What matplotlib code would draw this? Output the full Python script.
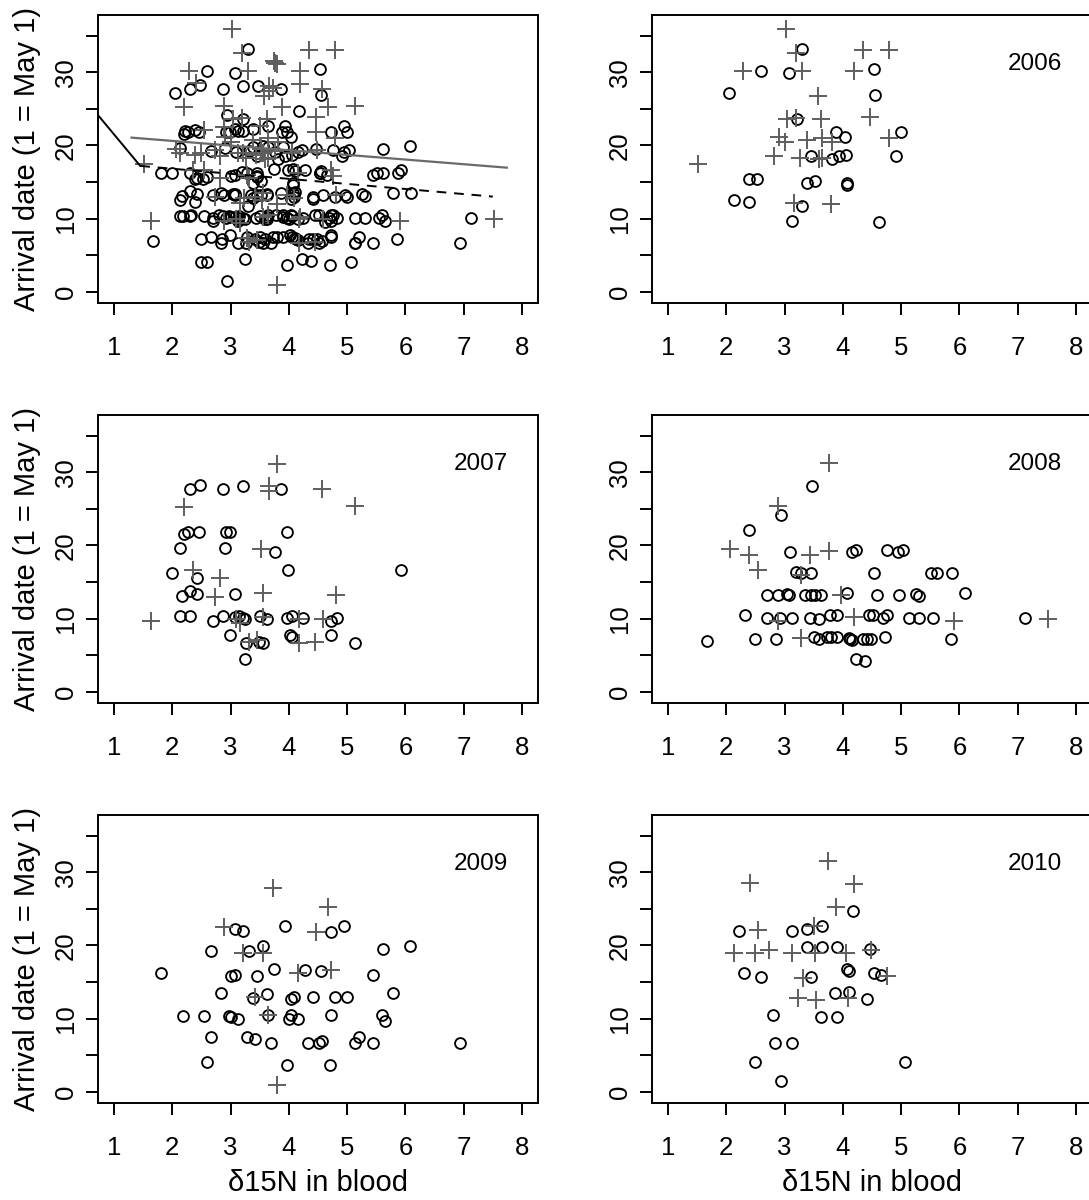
import matplotlib
matplotlib.use('Agg')
import matplotlib.pyplot as plt
from matplotlib.ticker import FixedLocator, FixedFormatter

plt.rcParams['font.family'] = ['Liberation Sans', 'DejaVu Sans']

# ---- data (d15N in blood, arrival day) ----
# circles = black open symbols, plus = grey crosses
n15_o_2006 = [3.30, 2.59, 3.07, 4.54, 2.04, 4.56, 3.21, 3.89, 4.04, 4.99, 3.45, 3.82, 3.93,
              4.05, 4.92, 2.39, 2.52, 3.38, 3.52, 4.07, 4.07, 2.14, 2.39, 3.30, 3.13, 4.62]
day_o_2006 = [33.2, 30.2, 29.9, 30.5, 27.2, 26.9, 23.6, 21.8, 21.2, 21.8, 18.5, 18.1, 18.5,
              18.7, 18.5, 15.4, 15.4, 14.9, 15.2, 14.9, 14.6, 12.5, 12.2, 11.7, 9.7, 9.5]
n15_p_2006 = [3.02, 3.19, 2.29, 3.30, 4.19, 4.35, 4.80, 3.57, 4.47, 3.04, 3.20, 3.63, 2.91,
              3.00, 3.38, 3.65, 3.81, 4.80, 2.82, 3.26, 3.59, 3.65, 1.51, 3.16, 3.80]
day_p_2006 = [36.0, 32.7, 30.2, 30.2, 30.2, 33.0, 33.0, 26.7, 23.9, 23.6, 23.7, 23.6, 21.1,
              20.5, 20.8, 21.0, 20.5, 21.0, 18.6, 18.3, 18.1, 18.3, 17.5, 12.1, 12.0]

n15_o_2007 = [2.48, 2.30, 2.87, 3.21, 3.86, 2.20, 2.27, 2.45, 2.92, 2.99, 3.96, 2.14, 2.91,
              3.76, 2.00, 2.42, 3.99, 5.93, 2.17, 2.30, 2.42, 3.07, 2.13, 2.30, 2.69, 2.87,
              3.07, 3.15, 3.21, 3.24, 3.51, 3.62, 3.96, 4.05, 4.24, 4.72, 4.82, 2.99, 4.02,
              4.06, 4.72, 3.27, 3.48, 3.56, 5.13, 3.24]
day_o_2007 = [28.3, 27.7, 27.7, 28.1, 27.7, 21.5, 21.8, 21.8, 21.8, 21.8, 21.8, 19.6, 19.6,
              19.1, 16.2, 15.5, 16.6, 16.6, 13.1, 13.7, 13.4, 13.4, 10.4, 10.4, 9.6, 10.4,
              10.2, 10.4, 10.1, 9.9, 10.4, 9.9, 10.1, 10.4, 10.1, 9.6, 10.1, 7.7, 7.7,
              7.5, 7.7, 6.6, 6.8, 6.6, 6.6, 4.4]
n15_p_2007 = [3.79, 3.66, 3.66, 4.57, 5.14, 2.20, 3.53, 2.36, 2.81, 3.56, 2.74, 4.81, 1.64,
              3.09, 3.17, 3.56, 4.17, 4.59, 3.32, 3.45, 4.18, 4.44]
day_p_2007 = [31.2, 28.1, 27.5, 27.7, 25.4, 25.2, 19.5, 16.6, 15.6, 13.5, 12.9, 13.2, 9.6,
              9.95, 9.4, 10.2, 9.95, 9.95, 6.8, 7.1, 6.6, 6.8]

n15_o_2008 = [3.47, 2.94, 2.39, 3.10, 4.16, 4.23, 4.75, 4.95, 5.03, 3.20, 3.28, 3.45, 4.54,
              5.51, 5.62, 5.88, 2.69, 2.89, 3.05, 3.07, 3.35, 3.46, 3.53, 3.62, 4.07, 4.59,
              4.96, 5.26, 5.30, 6.09, 2.32, 2.70, 2.92, 3.13, 3.44, 3.59, 3.78, 3.90, 4.44,
              4.51, 4.69, 4.75, 5.13, 5.30, 5.54, 7.12, 1.67, 2.49, 2.86, 3.51, 3.59, 3.72,
              3.80, 3.90, 4.10, 4.13, 4.16, 4.34, 4.42, 4.48, 4.72, 5.85, 4.23, 4.38]
day_o_2008 = [28.1, 24.2, 22.1, 19.1, 19.1, 19.4, 19.4, 19.1, 19.4, 16.4, 16.2, 16.2, 16.2,
              16.2, 16.2, 16.2, 13.2, 13.2, 13.4, 13.2, 13.2, 13.2, 13.2, 13.2, 13.5, 13.2,
              13.2, 13.4, 13.1, 13.5, 10.5, 10.1, 10.1, 10.1, 10.1, 9.9, 10.5, 10.5, 10.5,
              10.5, 10.1, 10.5, 10.1, 10.1, 10.1, 10.1, 6.9, 7.2, 7.2, 7.5, 7.2, 7.5,
              7.5, 7.5, 7.3, 7.2, 7.1, 7.2, 7.2, 7.2, 7.5, 7.2, 4.5, 4.2]
n15_p_2008 = [3.77, 2.88, 2.06, 2.39, 2.55, 3.43, 3.77, 3.29, 3.97, 2.88, 4.19, 5.91, 7.52, 3.29]
day_p_2008 = [31.3, 25.4, 19.5, 18.7, 16.6, 18.7, 19.2, 15.9, 13.2, 9.7, 10.2, 9.7, 10.0, 7.3]

n15_o_2009 = [3.94, 4.94, 3.08, 3.22, 4.73, 2.67, 3.32, 3.56, 5.62, 6.07, 1.80, 3.00, 3.08,
              3.46, 3.74, 4.28, 4.55, 5.44, 2.83, 3.39, 3.63, 4.04, 4.09, 4.42, 4.79, 5.00,
              5.79, 2.19, 2.54, 2.98, 3.01, 3.12, 3.65, 4.00, 4.04, 4.15, 4.73, 5.59, 5.65,
              2.67, 3.28, 3.42, 3.70, 4.32, 4.52, 4.57, 5.13, 5.21, 5.45, 6.93, 2.59, 3.97, 4.70]
day_o_2009 = [22.6, 22.6, 22.2, 22.0, 21.8, 19.3, 19.3, 19.9, 19.5, 19.9, 16.2, 15.8, 16.0,
              15.8, 16.8, 16.6, 16.5, 16.0, 13.5, 12.8, 13.3, 12.7, 13.0, 13.0, 13.0, 13.0,
              13.5, 10.3, 10.3, 10.3, 10.2, 10.0, 10.5, 10.0, 10.5, 10.0, 10.5, 10.5, 9.7,
              7.5, 7.5, 7.2, 6.7, 6.7, 6.7, 6.9, 6.7, 7.5, 6.7, 6.7, 4.0, 3.7, 3.7]
n15_p_2009 = [3.72, 4.67, 2.88, 4.46, 3.21, 3.56, 4.16, 4.72, 3.42, 3.65, 3.79]
day_p_2009 = [27.9, 25.2, 22.5, 21.8, 19.0, 19.0, 16.2, 16.7, 13.0, 10.5, 0.9]

n15_o_2010 = [4.17, 2.21, 3.13, 3.38, 3.65, 3.38, 3.65, 3.90, 4.47, 2.31, 2.59, 3.45, 4.07,
              4.11, 4.54, 4.65, 3.87, 4.10, 4.41, 2.80, 3.62, 3.90, 2.83, 3.13, 2.49, 5.06, 2.94]
day_o_2010 = [24.7, 22.0, 22.0, 22.2, 22.6, 19.8, 19.8, 19.8, 19.5, 16.2, 15.7, 15.7, 16.8,
              16.5, 16.2, 16.0, 13.5, 13.6, 12.7, 10.5, 10.2, 10.2, 6.7, 6.7, 4.0, 4.0, 1.5]
n15_p_2010 = [3.74, 2.41, 4.19, 3.89, 2.55, 3.50, 2.13, 2.50, 2.73, 3.13, 3.53, 4.06, 4.48,
              3.32, 4.76, 3.23, 3.54, 4.08]
day_p_2010 = [31.5, 28.6, 28.4, 25.2, 22.1, 22.6, 18.9, 18.9, 19.4, 19.0, 19.0, 19.0, 19.4,
              15.5, 15.8, 12.8, 12.6, 12.8]

years = ['2006', '2007', '2008', '2009', '2010']
n15_circles = [n15_o_2006, n15_o_2007, n15_o_2008, n15_o_2009, n15_o_2010]
day_circles = [day_o_2006, day_o_2007, day_o_2008, day_o_2009, day_o_2010]
n15_plus = [n15_p_2006, n15_p_2007, n15_p_2008, n15_p_2009, n15_p_2010]
day_plus = [day_p_2006, day_p_2007, day_p_2008, day_p_2009, day_p_2010]

# fitted lines shown on the pooled panel
seg_solid_x = [0.72, 1.45]
seg_solid_y = [24.2, 17.2]
seg_dash_x = [1.45, 7.5]
seg_dash_y = [17.2, 13.0]
fit_grey_x = [1.30, 7.74]
fit_grey_y = [21.07, 16.96]

x_ticks = [1, 2, 3, 4, 5, 6, 7, 8]
y_ticks = [0, 5, 10, 15, 20, 25, 30, 35]
y_tick_labels = ['0', '', '10', '', '20', '', '30', '']

GREY = '#5e5e5e'
W, H = 1089, 1200

fig = plt.figure(figsize=(W / 100, H / 100), dpi=100)

# panel boxes in pixels (left, bottom), all same size
box_w, box_h = 440.6, 288.3
lefts = [97.7, 651.7]
bottoms = [303.3, 703.3, 1103.3]


def make_axes(row, col):
    l = lefts[col]
    b = bottoms[row]
    ax = fig.add_axes([l / W, (H - b) / H, box_w / W, box_h / H])
    ax.set_xlim(0.72, 8.28)
    ax.set_ylim(-1.6, 37.85)
    ax.xaxis.set_major_locator(FixedLocator(x_ticks))
    ax.yaxis.set_major_locator(FixedLocator(y_ticks))
    ax.yaxis.set_major_formatter(FixedFormatter(y_tick_labels))
    ax.tick_params(axis='both', direction='out', length=8.9, width=1.4, labelsize=18.5)
    ax.tick_params(axis='x', pad=15)
    ax.tick_params(axis='y', pad=5.5, labelrotation=90)
    for lab in ax.get_yticklabels():
        lab.set_va('center')
    for s in ax.spines.values():
        s.set_linewidth(1.4)
    if col == 0:
        ax.set_ylabel('Arrival date (1 = May 1)', fontsize=21)
        ax.yaxis.set_label_coords(-0.129, 0.5)
    if row == 2:
        ax.set_xlabel('\u03b415N in blood', fontsize=21, va='top')
        ax.xaxis.set_label_coords(0.5, -0.228)
    return ax


def draw_points(ax, xo, yo, xp, yp):
    ax.plot(xo, yo, linestyle='none', marker='o', markersize=7.8, markerfacecolor='none',
            markeredgecolor='black', markeredgewidth=1.35)
    ax.plot(xp, yp, linestyle='none', marker='+', markersize=12.5, markeredgecolor=GREY,
            markeredgewidth=1.4)


# pooled panel: all years together
ax0 = make_axes(0, 0)
all_xo = [v for lst in n15_circles for v in lst]
all_yo = [v for lst in day_circles for v in lst]
all_xp = [v for lst in n15_plus for v in lst]
all_yp = [v for lst in day_plus for v in lst]
draw_points(ax0, all_xo, all_yo, all_xp, all_yp)
ax0.plot(seg_solid_x, seg_solid_y, color='black', lw=1.4)
ax0.plot(seg_dash_x, seg_dash_y, color='black', lw=1.4, dashes=(5, 4))
ax0.plot(fit_grey_x, fit_grey_y, color='#6a6a6a', lw=1.6)

positions = [(0, 1), (1, 0), (1, 1), (2, 0), (2, 1)]
for i, yr in enumerate(years):
    r, c = positions[i]
    ax = make_axes(r, c)
    draw_points(ax, n15_circles[i], day_circles[i], n15_plus[i], day_plus[i])
    ax.text(7.3, 31.1, yr, fontsize=17.5, ha='center', va='center')

fig.savefig('out.png', dpi=100)
